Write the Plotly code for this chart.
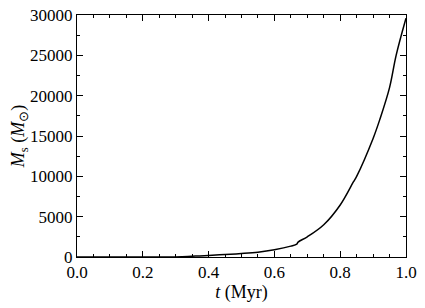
import plotly.graph_objects as go

t_myr = [0.0, 0.28, 0.32, 0.36, 0.40, 0.45, 0.50, 0.55, 0.60, 0.65, 0.668, 0.672, 0.70, 0.75, 0.80, 0.84, 0.85, 0.90, 0.92, 0.95, 0.97, 1.0]
mass = [0, 0, 40, 110, 200, 300, 430, 600, 900, 1350, 1600, 1850, 2500, 4000, 6450, 9300, 10000, 14700, 17000, 21000, 25000, 29600]

font_family = "Liberation Serif"

fig = go.Figure()
fig.add_trace(go.Scatter(x=t_myr, y=mass, mode="lines", line_shape="spline",
                         line=dict(color="black", width=1.5), showlegend=False))

axis_common = dict(
    showgrid=False, zeroline=False, showline=True, linecolor="black", linewidth=1,
    mirror="allticks", ticks="inside", ticklen=6, tickwidth=1, tickcolor="black",
    tickfont=dict(family=font_family, size=17, color="black"),
    ticklabeloverflow="allow",
)

fig.update_xaxes(range=[0, 1.0], dtick=0.2, tickformat=".1f",
                 minor=dict(dtick=0.05, ticks="inside", ticklen=3, tickcolor="black", showgrid=False),
                 title=dict(text="<i>t</i> (Myr)", font=dict(family=font_family, size=18, color="black"), standoff=3),
                 **axis_common)
fig.update_yaxes(range=[0, 30000], dtick=5000, tickformat="d",
                 minor=dict(dtick=2500, ticks="inside", ticklen=3, tickcolor="black", showgrid=False),
                 title=dict(text="<i>M</i><sub>s</sub> (<i>M</i><sub>⊙</sub>)", font=dict(family=font_family, size=18, color="black"), standoff=1),
                 **axis_common)

fig.update_layout(
    width=417, height=300,
    margin=dict(l=69, r=19, t=7, b=51, autoexpand=False),
    paper_bgcolor="white", plot_bgcolor="white",
    font=dict(family=font_family, color="black"),
)

fig.write_html("out.html")
